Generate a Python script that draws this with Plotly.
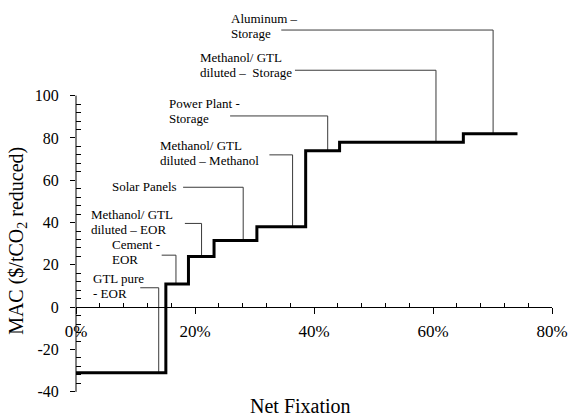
import numpy as np
import plotly.graph_objects as go

FONT = "Liberation Serif"

# Marginal abatement cost curve: cumulative net fixation (%) at each step start, MAC ($/tCO2)
step_x = [0, 15.1, 18.9, 23.2, 30.4, 38.6, 44.3, 65.1, 74.2]
step_mac = [-31, 11, 24, 31.5, 38, 74, 78, 82, 82]

# Technology labels and their leader lines
labels = [
    ["GTL pure", "- EOR"],
    ["Cement -", "EOR"],
    ["Methanol/ GTL", "diluted – EOR"],
    ["Solar Panels"],
    ["Methanol/ GTL", "diluted – Methanol"],
    ["Power Plant -", "Storage"],
    ["Methanol/ GTL", "diluted –\u00a0 Storage"],
    ["Aluminum –", "Storage"],
]
label_x = [2.5, 5.7, 2.1, 5.7, 13.85, 15.35, 20.5, 25.7]
label_y = [13.6, 29.5, 43.7, 57.0, 76.3, 96.4, 118.1, 136.6]
line_step = 7.0

leader_start = [10.8, 14.4, 18.3, 18.0, 32.5, 25.9, 36.8, 34.5]
leader_x = [13.9, 16.8, 21.1, 28.1, 36.4, 42.3, 60.5, 70.1]
leader_y = [9.2, 24.6, 39.6, 56.7, 72.0, 90.4, 112.0, 131.0]

x_major = [0, 20, 40, 60, 80]
x_major_text = [f"{v}%" for v in x_major]
x_minor = [v for v in range(0, 81, 4) if v not in x_major]
y_major = list(range(-40, 101, 20))
y_major_text = [str(v) for v in y_major]
y_minor = [v for v in range(-40, 101, 4) if v not in y_major]

Y_RANGE = [-50, 140]
zero_pos = (0 - Y_RANGE[0]) / (Y_RANGE[1] - Y_RANGE[0])


def mac_at(x):
    i = np.searchsorted(step_x, x, side="right") - 1
    return step_mac[i]


fig = go.Figure()

for xs, xv, yv in zip(leader_start, leader_x, leader_y):
    fig.add_trace(go.Scatter(
        x=[xs, xv, xv], y=[yv, yv, mac_at(xv)],
        mode="lines", line=dict(color="#3a3a3a", width=1),
        hoverinfo="skip", showlegend=False,
    ))

fig.add_trace(go.Scatter(
    x=step_x, y=step_mac, mode="lines", line_shape="hv",
    line=dict(color="black", width=3), showlegend=False,
))

annotations = []
for lines, lx, ly in zip(labels, label_x, label_y):
    for k, t in enumerate(lines):
        annotations.append(dict(
            x=lx, y=ly - k * line_step, xref="x", yref="y", text=t,
            showarrow=False, xanchor="left", yanchor="middle",
            font=dict(family=FONT, size=13, color="black"),
        ))

annotations.append(dict(
    x=-0.122, y=0.428, xref="paper", yref="paper", textangle=-90,
    text="MAC ($/tCO<sub>2</sub> reduced)", showarrow=False,
    xanchor="center", yanchor="middle",
    font=dict(family=FONT, size=20, color="black"),
))
annotations.append(dict(
    x=37.65, y=-46.7, xref="x", yref="y", text="Net Fixation",
    showarrow=False, xanchor="center", yanchor="middle",
    font=dict(family=FONT, size=20, color="black"),
))

fig.update_layout(
    width=568, height=418,
    margin=dict(l=76, r=16, t=11, b=5),
    paper_bgcolor="white", plot_bgcolor="white",
    showlegend=False,
    annotations=annotations,
    shapes=[dict(type="line", xref="paper", yref="y", x0=0, x1=0,
                 y0=-40, y1=100, line=dict(color="black", width=1),
                 layer="above")],
    xaxis=dict(
        range=[0, 80], anchor="free", position=zero_pos, automargin=False,
        showline=True, linecolor="black", linewidth=1,
        showgrid=False, zeroline=False,
        tickmode="array", tickvals=x_major, ticktext=x_major_text,
        ticks="outside", ticklen=6, tickcolor="black", tickwidth=1,
        ticklabelstandoff=2, ticklabeloverflow="allow",
        tickfont=dict(family=FONT, size=17, color="black"),
        minor=dict(tickmode="array", tickvals=x_minor, ticks="inside",
                   ticklen=4, tickcolor="black", tickwidth=1),
    ),
    xaxis2=dict(
        range=[0, 80], overlaying="x", anchor="free", position=zero_pos,
        automargin=False,
        showline=False, showgrid=False, zeroline=False,
        tickmode="array", tickvals=x_major, ticks="inside", ticklen=4,
        tickcolor="black", showticklabels=False,
    ),
    yaxis=dict(
        range=Y_RANGE, automargin=False,
        showline=False, showgrid=False, zeroline=False,
        tickmode="array", tickvals=y_major, ticktext=y_major_text,
        ticks="outside", ticklen=5, tickcolor="black", tickwidth=1,
        ticklabelstandoff=8,
        tickfont=dict(family=FONT, size=16, color="black"),
        minor=dict(tickmode="array", tickvals=y_minor, ticks="inside",
                   ticklen=5, tickcolor="black", tickwidth=1),
    ),
    yaxis2=dict(
        range=Y_RANGE, overlaying="y", side="left", anchor="x",
        automargin=False,
        showline=False, showgrid=False, zeroline=False,
        tickmode="array", tickvals=y_major, ticks="inside", ticklen=5,
        tickcolor="black", showticklabels=False,
    ),
)

fig.write_html("out.html")
